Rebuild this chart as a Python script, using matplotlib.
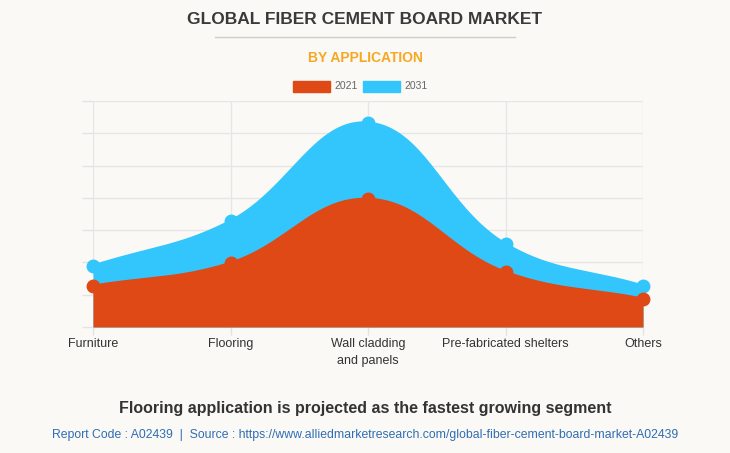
import numpy as np
import matplotlib.pyplot as plt

plt.rcParams['font.family'] = ['Liberation Sans', 'DejaVu Sans']

categories = ['Furniture', 'Flooring', 'Wall cladding\nand panels', 'Pre-fabricated shelters', 'Others']
years = ['2021', '2031']
values_2021 = [1.27, 1.98, 3.96, 1.70, 0.87]
values_2031 = [1.89, 3.28, 6.32, 2.57, 1.27]
colors = ['#DF4916', '#33C6FD']
bg = '#FAF9F5'


def spline(xs, ys, sx, sy, tension=0.4, n=40):
    # chart.js style bezier through the points (distances in pixel-ish space)
    xs = np.asarray(xs, float)
    ys = np.asarray(ys, float)
    px, py = xs * sx, ys * sy
    m = len(xs)
    c_prev = np.zeros((m, 2))
    c_next = np.zeros((m, 2))
    for i in range(m):
        p0 = np.array([px[max(i - 1, 0)], py[max(i - 1, 0)]])
        p1 = np.array([px[i], py[i]])
        p2 = np.array([px[min(i + 1, m - 1)], py[min(i + 1, m - 1)]])
        d01 = np.hypot(*(p1 - p0))
        d12 = np.hypot(*(p2 - p1))
        tot = d01 + d12
        s01 = d01 / tot if tot else 0
        s12 = d12 / tot if tot else 0
        c_prev[i] = p1 - tension * s01 * (p2 - p0)
        c_next[i] = p1 + tension * s12 * (p2 - p0)
    out_x, out_y = [], []
    t = np.linspace(0, 1, n)[:, None]
    for i in range(m - 1):
        a = np.array([px[i], py[i]])
        b = c_next[i]
        c = c_prev[i + 1]
        d = np.array([px[i + 1], py[i + 1]])
        pts = (1 - t) ** 3 * a + 3 * (1 - t) ** 2 * t * b + 3 * (1 - t) * t ** 2 * c + t ** 3 * d
        out_x.extend(pts[:, 0] / sx)
        out_y.extend(pts[:, 1] / sy)
    return np.array(out_x), np.array(out_y)


fig = plt.figure(figsize=(7.3, 4.53), dpi=100, facecolor=bg)
ax = fig.add_axes([93 / 730, 1 - 327 / 453, 550 / 730, 226 / 453], facecolor=bg)

x = np.arange(len(categories))
sx, sy = 137.5, 32.3
for vals, col in [(values_2031, colors[1]), (values_2021, colors[0])]:
    cx, cy = spline(x, vals, sx, sy)
    ax.fill_between(cx, 0, cy, color=col, lw=0, zorder=2)
    ax.plot(cx, cy, color=col, lw=2, zorder=3)
    ax.plot(x, vals, 'o', color=col, ms=9, zorder=4, clip_on=False)

ax.set_xlim(0, len(categories) - 1)
ax.set_ylim(0, 7)
ax.set_yticks(np.arange(0, 8))
ax.set_yticklabels([])
ax.set_xticks(x)
ax.set_xticklabels(categories, fontsize=9, color='#333333', linespacing=1.5)
ax.tick_params(axis='y', length=8, color='#e3e3e3', width=1)
ax.tick_params(axis='x', length=6, color='#e3e3e3', width=1, pad=2)
ax.grid(True, color='#e6e6e6', lw=1, zorder=0)
for s in ax.spines.values():
    s.set_visible(False)
ax.axhline(0, color='#dddddd', lw=1, zorder=1)

fig.text(0.5, 1 - 20 / 453, 'GLOBAL FIBER CEMENT BOARD MARKET', ha='center', va='center',
         fontsize=12.5, fontweight='bold', color='#3a3a3a')
fig.add_artist(plt.Line2D([215 / 730, 515 / 730], [1 - 37 / 453] * 2, color='#cccccc', lw=1))
fig.text(0.5, 1 - 58 / 453, 'BY APPLICATION', ha='center', va='center',
         fontsize=10, fontweight='bold', color='#F7A823')

# legend
for i, (lab, col) in enumerate(zip(years, colors)):
    x0 = 293 + i * 70
    fig.patches.append(plt.Rectangle((x0 / 730, 1 - 92 / 453), 37 / 730, 11 / 453,
                                     transform=fig.transFigure, color=col, figure=fig))
    fig.text((x0 + 41) / 730, 1 - 86 / 453, lab, ha='left', va='center', fontsize=7.5, color='#666666')

fig.text(0.5, 1 - 408 / 453, 'Flooring application is projected as the fastest growing segment',
         ha='center', va='center', fontsize=11.5, fontweight='bold', color='#333333')
fig.text(0.5, 1 - 435 / 453,
         'Report Code : A02439  |  Source : https://www.alliedmarketresearch.com/global-fiber-cement-board-market-A02439',
         ha='center', va='center', fontsize=8.8, color='#2f6db5')

fig.savefig('out.png', dpi=100, facecolor=bg)
